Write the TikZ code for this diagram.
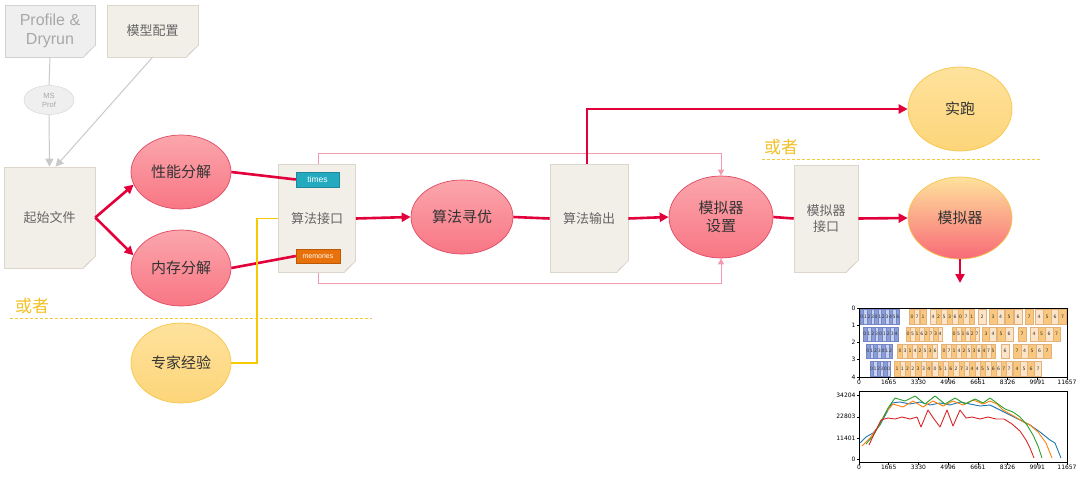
\documentclass[tikz,border=0pt]{standalone}
\usepackage{fontspec}
\setmainfont{Liberation Sans}
\newfontfamily\cjk{Noto Sans CJK SC}
\newfontfamily\djv{DejaVu Sans}
\usetikzlibrary{shapes.geometric,arrows.meta,calc}
\newcommand\fs[1]{\fontsize{#1}{\dimexpr#1pt*12/10\relax}\selectfont}
\definecolor{docfill}{HTML}{F2EEE8}
\definecolor{docline}{HTML}{DCD6CC}
\definecolor{doctext}{HTML}{666666}
\definecolor{gfill}{HTML}{EFEFEF}
\definecolor{gline}{HTML}{D2D2D2}
\definecolor{gtext}{HTML}{A8A8A8}
\definecolor{foldgray}{HTML}{C9C9C9}
\definecolor{redtop}{HTML}{FBA6AC}
\definecolor{redbot}{HTML}{F87684}
\definecolor{redborder}{HTML}{DE4A64}
\definecolor{yeltop}{HTML}{FEE29C}
\definecolor{yelbot}{HTML}{FDD57A}
\definecolor{yelborder}{HTML}{F5C64A}
\definecolor{ink}{HTML}{333333}
\definecolor{conred}{HTML}{E2003B}
\definecolor{pinkline}{HTML}{F39AB0}
\definecolor{gold}{HTML}{F8C800}
\definecolor{ortext}{HTML}{F2BF25}
\definecolor{ordash}{HTML}{F5C93C}
\definecolor{teal}{HTML}{24AABF}
\definecolor{tagor}{HTML}{E8710A}
\definecolor{ob}{HTML}{F9C87E}
\definecolor{lb}{HTML}{FCE4C8}
\definecolor{obd}{HTML}{E3B27A}
\definecolor{bb}{HTML}{8C9ED8}
\definecolor{lbb}{HTML}{C8D2EE}
\definecolor{bbd}{HTML}{7586C6}
\definecolor{mblue}{HTML}{1F77B4}
\definecolor{morange}{HTML}{FF7F0E}
\definecolor{mgreen}{HTML}{2CA02C}
\definecolor{mred}{HTML}{D62728}
\newcommand\docfold[1]{%
  \fill[white] ([xshift=0.8pt,yshift=-0.8pt]#1.south east) -- ++(-12.8,0) -- ++(12.8,-12.8) -- cycle;
  \fill[foldgray] ([xshift=-12pt]#1.south east) -- ([yshift=12pt]#1.south east) -- ([xshift=-9pt,yshift=4pt]#1.south east) -- cycle;
  \draw[docline,line width=0.5] ([xshift=-12pt]#1.south east) -- ([yshift=12pt]#1.south east);}
\newcommand\bluerow[4]{% y, x0, step, labels
  \foreach \l [count=\i] in {#4} {
    \pgfmathtruncatemacro\m{mod(\i,2)}
    \ifnum\m=0 \def\fc{lbb}\else\def\fc{bb}\fi
    \node[gbar, draw=bbd, fill=\fc, minimum width=#3] (b#1-\i) at ({#2+(\i-0.5)*#3},#1) {\l};
  }}
\newcommand\orow[2]{% y, list c/l/w
  \foreach \c/\l/\w [count=\i] in {#2} {
    \pgfmathtruncatemacro\m{mod(\i,2)}
    \ifnum\m=0 \def\fc{lb}\else\def\fc{ob}\fi
    \node[gbar, draw=obd, fill=\fc, minimum width=\w] (o#1-\i) at (\c,#1) {\l};
  }}
\begin{document}
\begin{tikzpicture}[x=1pt,y=-1pt,
  doc/.style={draw=docline, fill=docfill, line width=0.6, inner sep=0, font=\cjk\fs{13}, text=doctext, align=center},
  graydoc/.style={doc, draw=gline, fill=gfill, text=gtext},
  redell/.style={ellipse, draw=redborder, line width=0.7, top color=redtop, bottom color=redbot, inner sep=0, font=\cjk\fs{15}, text=ink, align=center},
  yelell/.style={ellipse, draw=yelborder, line width=0.7, top color=yeltop, bottom color=yelbot, inner sep=0, font=\cjk\fs{15}, text=ink, align=center},
  tag/.style={inner sep=0, text=white, minimum height=15},
  redarrow/.style={draw=conred, line width=2.6, -{Triangle[length=9,width=9]}},
  redline/.style={draw=conred, line width=2.6},
  grayarrow/.style={draw=foldgray, line width=1, -{Triangle[length=8,width=8]}},
  pinkarrow/.style={draw=pinkline, line width=0.9, -{Triangle[length=6,width=6]}},
  ortxt/.style={font=\cjk\fs{17}, text=ortext, inner sep=0},
  ordashed/.style={draw=ordash, line width=1, dash pattern=on 3pt off 2pt},
  gbar/.style={rectangle, line width=0.3, inner sep=0, minimum height=14.5, font=\djv\fs{4.6}, text=ink},
  axis/.style={draw=black, line width=0.6},
  tick/.style={font=\djv\fs{6}, text=black, inner sep=0.8}]
\useasboundingbox (0,0) rectangle (1080,479);

% ---------- top-left inputs ----------
\node[graydoc, minimum width=90, minimum height=52, font=\fs{16}] (prof) at (50,31) {Profile \&\\Dryrun};
\docfold{prof}
\node[doc, minimum width=91, minimum height=52] (cfg) at (152.5,31) {模型配置};
\docfold{cfg}
\node[ellipse, draw=gline, fill=gfill, minimum width=50, minimum height=29, inner sep=0, font=\fs{7.5}, text=gtext, align=center] (msprof) at (49,100) {MS\\Prof};

% ---------- documents ----------
\node[doc, minimum width=91, minimum height=101] (start) at (49.5,217.5) {起始文件};
\docfold{start}
\node[doc, minimum width=77, minimum height=108] (api) at (317,218.5) {算法接口};
\docfold{api}
\node[doc, minimum width=78, minimum height=108] (out) at (589,218.5) {算法输出};
\docfold{out}
\node[doc, minimum width=64, minimum height=107] (simapi) at (826,218.5) {模拟器\\接口};
\docfold{simapi}

\node[tag, fill=teal, draw=teal!80!black, line width=0.4, minimum width=43, font=\fs{8.5}] (times) at (317.5,179.5) {times};
\node[tag, fill=tagor, draw=tagor!80!black, line width=0.4, minimum width=44, minimum height=14, font=\fs{7}] (mems) at (318,256) {memories};

% ---------- ellipses ----------
\node[redell, minimum width=100, minimum height=74] (perf) at (181,172) {性能分解};
\node[redell, minimum width=100, minimum height=76] (mem) at (181,268) {内存分解};
\node[yelell, minimum width=100, minimum height=80] (expert) at (181,363) {专家经验};
\node[redell, minimum width=102, minimum height=74] (opt) at (462,217) {算法寻优};
\node[redell, minimum width=104, minimum height=82] (simset) at (721,217) {模拟器\\设置};
\node[yelell, minimum width=104, minimum height=84] (run) at (960,109) {实跑};
\node[ellipse, draw=yelborder, line width=0.7, top color=yeltop, middle color=ob!85!redbot, bottom color=redbot!90!red, inner sep=0, font=\cjk\fs{15}, text=ink, minimum width=104, minimum height=82] (sim) at (960,218) {模拟器};

% ---------- "or" labels ----------
\node[ortxt, anchor=south west] (or1) at (15,314) {或者};
\draw[ordashed] (10,318) -- (372,318);
\node[ortxt, anchor=south west] (or2) at (764,155) {或者};
\draw[ordashed] (762,159) -- (1040,159);

% ---------- connectors ----------
\draw[draw=foldgray, line width=1] (prof.south) -- (msprof.north);
\draw[grayarrow] (msprof.south) -- (start.north);
\draw[grayarrow] (cfg.south) -- ([xshift=6pt]start.north);

\draw[redarrow] (start.east) -- (perf.195);
\draw[redarrow] (start.east) -- (mem.165);
\draw[redline] (perf.east) -- (times.west);
\draw[redline] (mem.east) -- (mems.west);
\draw[draw=gold, line width=1.8] (expert.east) -- ++(26,0) |- (api.west);

\draw[pinkarrow] ([xshift=1pt]api.north) -- ++(0,-11) -| (simset.north);
\draw[pinkarrow] ([xshift=1pt]api.south) -- ++(0,11) -| (simset.south);

\draw[redarrow] (api.east) -- (opt.west);
\draw[redline] (opt.east) -- (out.west);
\draw[redarrow] (out.east) -- (simset.west);
\draw[redarrow] ([xshift=-2pt]out.north) |- (run.west);
\draw[redline] (simset.east) -- (simapi.west);
\draw[redarrow] (simapi.east) -- (sim.west);
\coordinate (simdown) at (960,283);
\draw[redarrow] (sim.south) -- (simdown);

% ---------- gantt chart ----------
\bluerow{316.6}{860}{3.6}{0,1,2,3,0,1,2,3,4,5,6}
\orow{316.6}{912/0/5, 917/7/5, 923/1/6, 933/4/5.5, 938.5/2/5.5, 944/5/5.5, 949.5/3/5.5, 955/6/5.5, 960.5/0/5.5, 966/7/5.5, 971.5/1/5.5, 982/2/8, 993/3/8, 1000.5/4/7, 1009/5/8, 1018/6/8, 1029/7/8, 1039/4/8, 1047/5/8, 1055/6/8, 1062.5/7/8}
\bluerow{333.9}{863}{3.9}{0,1,2,3,0,1,2,3,4}
\orow{333.9}{908/0/4.6, 912.6/5/4.6, 917.2/1/4.6, 921.8/6/4.6, 926.4/2/4.6, 931/7/4.6, 935.6/3/4.6, 940.2/4/4.6, 954/0/4.6, 958.6/5/4.6, 963.2/1/4.6, 967.8/6/4.6, 972.4/2/4.6, 977/7/4.6, 986/3/7, 993/4/7, 1001/5/8, 1009/6/8, 1022/7/8, 1034/4/7.5, 1041.5/5/7.5, 1049/6/7.5, 1056.5/7/7.5}
\bluerow{351.1}{866}{3.8}{0,1,2,3,0,1,2}
\orow{351.1}{900/0/5, 905/3/5, 910/1/5, 915/4/5, 920/2/5, 925/5/5, 930/3/5, 935/6/5, 944/0/5, 949/7/5, 954/1/5, 959/4/5, 964/2/5, 969/5/5, 974/3/5, 979/6/5, 984/4/4.6, 988.5/7/4.6, 993/5/4.6, 1005/6/8, 1017/7/7.5, 1024.5/4/7.5, 1032/5/7.5, 1039.5/6/7.5, 1047/7/7.5}
\bluerow{368.4}{870}{3.4}{0,1,2,3,0,0}
\orow{368.4}{897/1/5.3, 902.3/1/5.3, 907.6/2/5.3, 912.9/2/5.3, 918.2/3/5.3, 923.5/3/5.3, 928.8/4/5.3, 935/0/5.3, 940.3/5/5.3, 945.6/1/5.3, 950.9/6/5.3, 956.2/2/5.3, 961.5/7/5.3, 966.8/3/5.3, 972.1/4/5.3, 977.4/4/5.3, 982.7/5/5.3, 988/5/5.3, 993.3/6/5.3, 998.6/6/5.3, 1003.9/7/5.3, 1009.2/7/5.3, 1017/4/7, 1024/5/7, 1031/6/7, 1038/7/7}

\draw[axis] (859,308) rectangle (1067,377);
\foreach \v/\x in {0/859,1665/888.7,3330/918.4,4996/948.1,6661/977.9,8326/1007.6,9991/1037.3,11657/1067} {
  \draw[axis] (\x,377) -- (\x,379.5);
  \node[tick, anchor=north] (ta\v) at (\x,379.5) {\v};
  \draw[axis] (\x,462) -- (\x,464.5);
  \node[tick, anchor=north] (tb\v) at (\x,464.5) {\v};
}
\foreach \r in {0,...,4} {
  \draw[axis] (859,{308+\r*17.25}) -- (856.5,{308+\r*17.25});
  \node[tick, anchor=east] (ty\r) at (856.5,{308+\r*17.25}) {\r};
}

% ---------- line chart ----------
\draw[axis] (859,391) rectangle (1067,462);
\foreach \v/\y in {34204/395.5,22803/416.8,11401/438.1,0/459.4} {
  \draw[axis] (859,\y) -- (856.5,\y);
  \node[tick, anchor=east] (tl\v) at (856.5,\y) {\v};
}
\draw[mblue, line width=0.9, line join=round] plot coordinates {(860,443) (866,437) (873,433) (880,425) (887,412) (892,403) (900,402) (910,404) (920,402) (930,405) (940,403) (950,405) (960,402) (970,404) (980,406) (990,405) (1000,410) (1010,415) (1020,420) (1030,425) (1040,432) (1050,440) (1055,443) (1061,458)};
\draw[morange, line width=0.9, line join=round] plot coordinates {(862,446) (870,438) (878,427) (886,412) (893,404) (903,407) (913,401) (923,407) (933,401) (943,406) (953,401) (963,405) (973,400) (983,404) (990,401) (997,404) (1003,410) (1012,415) (1022,421) (1030,425) (1038,432) (1046,443) (1052,458)};
\draw[mgreen, line width=0.9, line join=round] plot coordinates {(866,444) (873,436) (880,424) (888,408) (895,398) (905,401) (915,396) (925,404) (935,396) (945,404) (955,398) (965,404) (975,399) (983,403) (990,398) (998,404) (1005,409) (1013,412) (1020,417) (1027,425) (1033,435) (1038,446) (1042,458)};
\draw[mred, line width=0.9, line join=round] plot coordinates {(869,445) (875,432) (881,420) (888,418) (895,419) (902,417) (910,419) (917,417) (921,427) (928,410) (934,419) (940,427) (947,410) (953,426) (960,410) (966,418) (972,417) (980,419) (988,417) (996,419) (1004,419) (1012,424) (1020,431) (1026,440) (1030,448) (1034,458)};
\end{tikzpicture}
\end{document}
